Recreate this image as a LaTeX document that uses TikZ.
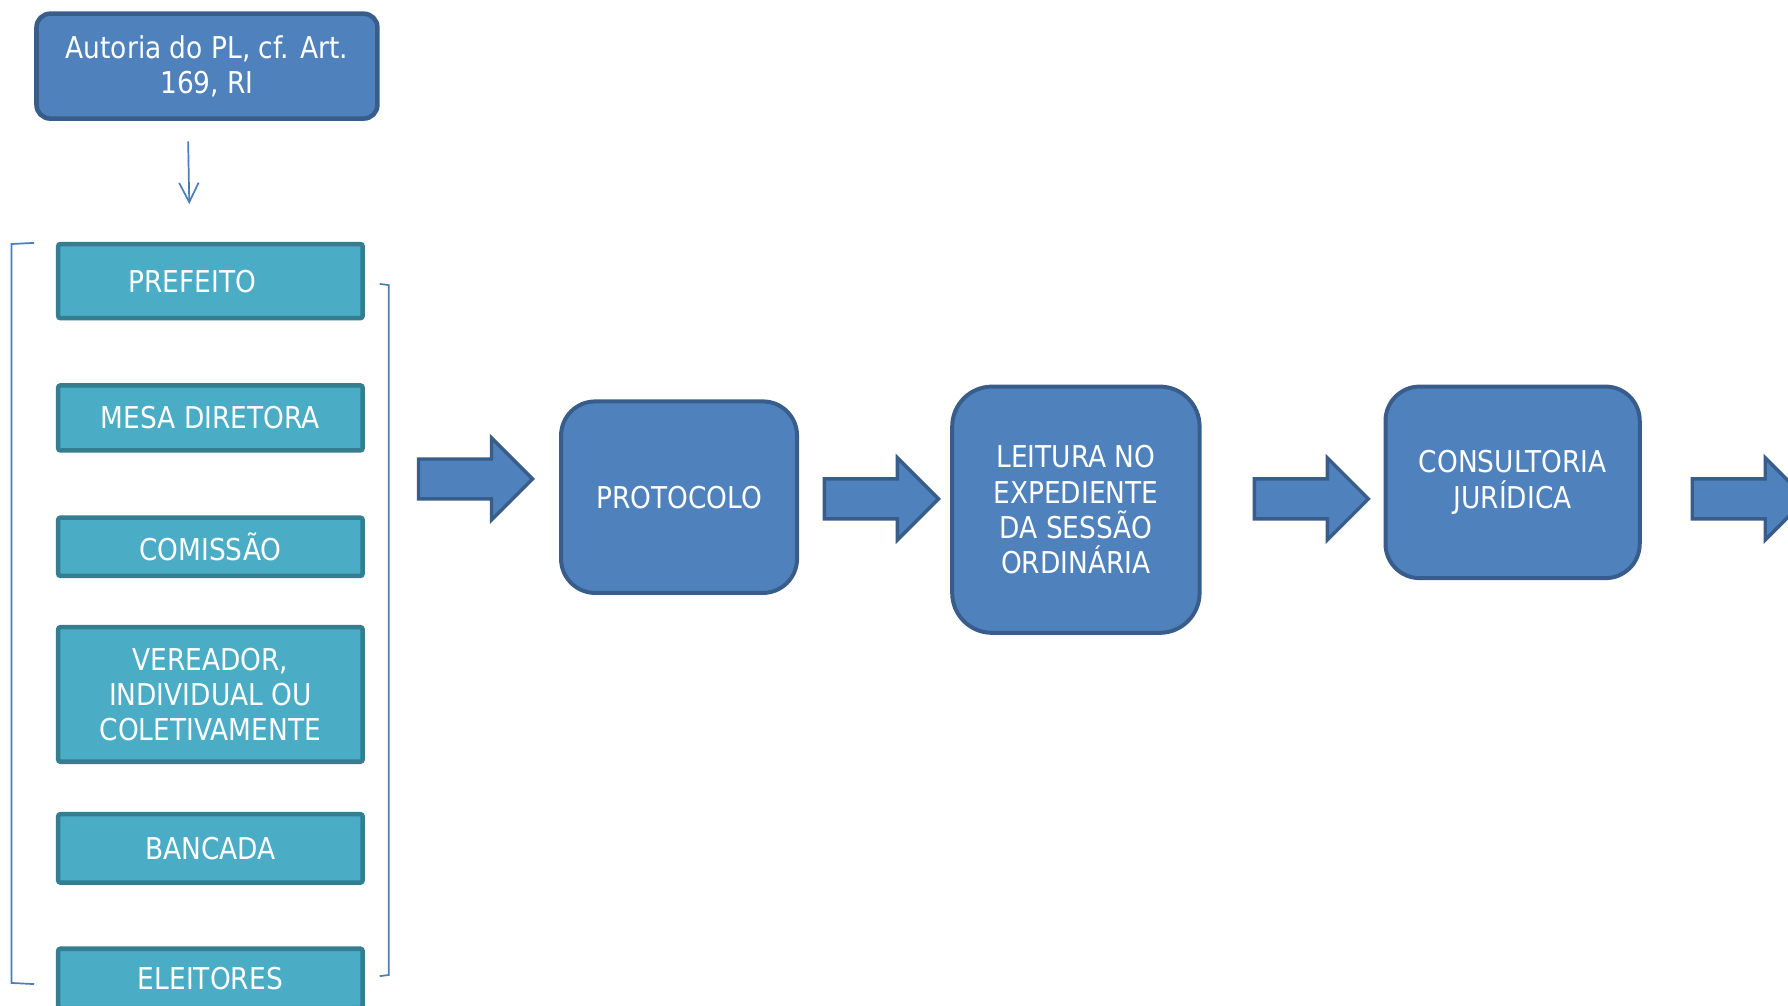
\documentclass[tikz,border=0pt]{standalone}
\usepackage{fontspec}
\setmainfont{DejaVu Sans}[FakeStretch=0.88]
\usepackage{xcolor}
\usepackage{tikz}
\usetikzlibrary{positioning, arrows.meta}
\definecolor{boxblue}{HTML}{4F81BD}
\definecolor{boxblueline}{HTML}{385D8A}
\definecolor{boxteal}{HTML}{4BACC6}
\definecolor{boxtealline}{HTML}{357D91}
\definecolor{thinblue}{HTML}{4A7EBB}

\begin{document}
\begin{tikzpicture}[x=0.02cm, y=-0.02cm]
						\tikzstyle{bluebox}=[rectangle, draw=boxblueline, fill=boxblue, line width=0.07cm, text=white, align=center, inner sep=0pt, font=\fontsize{15}{17.6}\selectfont]
						\tikzstyle{tealbox}=[rectangle, rounded corners=0.04cm, draw=boxtealline, fill=boxteal, line width=0.08cm, text=white, align=center, inner sep=0pt, minimum width=5.34cm, font=\fontsize{15}{17.6}\selectfont]
						\tikzstyle{bigarrow}=[draw=boxblueline, fill=boxblue, line width=0.06cm, miter limit=4]
						\tikzstyle{thinline}=[draw=thinblue, line width=0.03cm]
						\useasboundingbox (0,0) rectangle (1568,882);
						\node[bluebox, rounded corners=0.24cm, minimum width=5.98cm, minimum height=1.84cm, line width=0.08cm](t) at (181.5,58) {Autoria do PL, cf. Art.\\169, RI};
						\node[tealbox, minimum height=1.30cm](p1) at (184.5,246.5) {\hspace*{-0.64cm}PREFEITO};
						\node[tealbox, minimum height=1.14cm](p2) at (184.5,366.5) {MESA DIRETORA};
						\node[tealbox, minimum height=1.02cm](p3) at (184.5,479.5) {COMISSÃO};
						\node[tealbox, minimum height=2.36cm](p4) at (184.5,609) {VEREADOR,\\INDIVIDUAL OU\\COLETIVAMENTE};
						\node[tealbox, minimum height=1.20cm](p5) at (184.5,744) {BANCADA};
						\node[tealbox, minimum height=1.04cm](p6) at (184.5,858) {ELEITORES};
						\node[bluebox, rounded corners=0.6cm, minimum width=4.14cm, minimum height=3.36cm](b1) at (595.5,436) {PROTOCOLO};
						\node[bluebox, rounded corners=0.7cm, minimum width=4.34cm, minimum height=4.32cm](b2) at (943.5,447) {LEITURA NO\\EXPEDIENTE\\DA SESSÃO\\ORDINÁRIA};
						\node[bluebox, rounded corners=0.6cm, minimum width=4.46cm, minimum height=3.36cm](b3) at (1326.5,423) {CONSULTORIA\\JURÍDICA};
						\coordinate (c1) at (165,124);
						\coordinate (c2) at (166,179);
						\draw[thinline, -{Straight Barb[length=0.34cm, width=0.34cm]}] (c1) -- (c2);
						\draw[thinline] (30,213) -- (10,214) -- (10,862) -- (30,863);
						\draw[thinline] (333,249) -- (341,250) -- (341,855) -- (333,856);
						\foreach \x/\y in {367/420, 723/437.5, 1100/437.5, 1484/437.5}
							\draw[bigarrow] (\x,\y-17.5) -- (\x+64,\y-17.5) -- (\x+64,\y-36) -- (\x+100,\y) -- (\x+64,\y+36) -- (\x+64,\y+17.5) -- (\x,\y+17.5) -- cycle;
					\end{tikzpicture}
\end{document}
